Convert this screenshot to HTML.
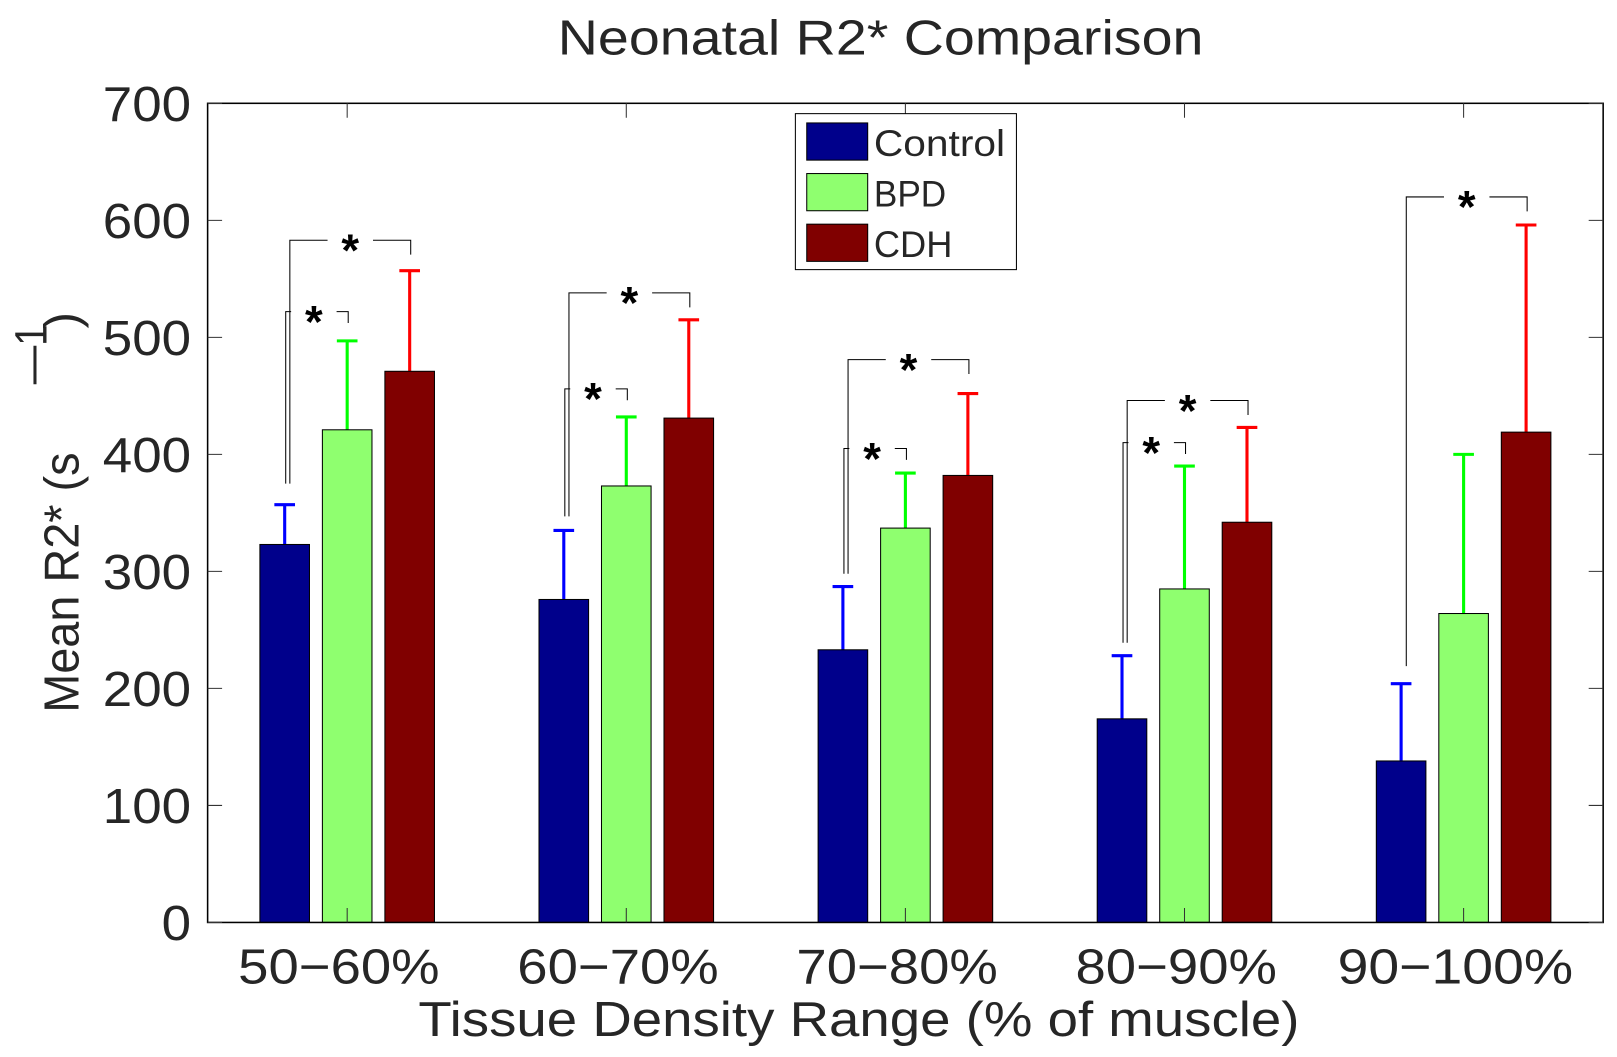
<!DOCTYPE html>
<html><head><meta charset="utf-8"><style>
html,body{margin:0;padding:0;background:#fff;}
svg text{font-family:"Liberation Sans","DejaVu Sans",sans-serif;fill:#262626;}
</style></head><body>
<svg id="chart" width="1617" height="1052" viewBox="0 0 1565.4 1018.4" xmlns="http://www.w3.org/2000/svg">
<text x="540" y="53" font-size="48" textLength="625" lengthAdjust="spacingAndGlyphs">Neonatal R2* Comparison</text>
<g id="plot"></g>
<text x="405" y="1003" font-size="48" textLength="853" lengthAdjust="spacingAndGlyphs">Tissue Density Range (% of muscle)</text>
<g>
<text transform="translate(76,690) rotate(-90)" font-size="48" textLength="252" lengthAdjust="spacingAndGlyphs">Mean R2* (s</text>
<text transform="translate(45,372) rotate(-90)" font-size="44" textLength="58" lengthAdjust="spacingAndGlyphs">—1</text>
<text transform="translate(76,318) rotate(-90)" font-size="48">)</text>
</g>
<g>
<rect x="770" y="110" width="214" height="151" fill="#fff" stroke="#000" stroke-width="1"/>
<rect x="781" y="119" width="59" height="36" fill="#00008b" stroke="#000"/>
<text x="846" y="151" font-size="36" textLength="127" lengthAdjust="spacingAndGlyphs">Control</text>
<rect x="781" y="168" width="59" height="36" fill="#8fff6f" stroke="#000"/>
<text x="846" y="200" font-size="36" textLength="70" lengthAdjust="spacingAndGlyphs">BPD</text>
<rect x="781" y="217" width="59" height="36" fill="#800000" stroke="#000"/>
<text x="846" y="249" font-size="36" textLength="76" lengthAdjust="spacingAndGlyphs">CDH</text>
</g>
</svg>
<script>
const categories = ["50\u221260%","60\u221270%","70\u221280%","80\u221290%","90\u2212100%"];
const controlMean = [323,276,233,174,138];
const controlErr = [34,59,54,54,66];
const bpdMean = [421,373,337,285,264];
const bpdErr = [76,59,47,105,136];
const cdhMean = [471,431,382,342,419];
const cdhErr = [86,84,70,81,177];
const yTicks = [0,100,200,300,400,500,600,700];
// brackets: [group, targetSeries(1=BPD,2=CDH), level, baseLevel]
const brackets = [[0,2,583,375],[0,1,522,375],[1,2,538,347],[1,1,456,347],[2,2,481,298],[2,1,405,298],[3,2,446,239],[3,1,410,239],[4,2,620,219]];

const L=201,R=1552,T=100,B=893;
const NS="http://www.w3.org/2000/svg";
const g=document.getElementById('plot');
function y(v){return B-(v/700)*(B-T);}
function x(i){return L+(i+0.5)*(R-L)/categories.length;}
const off=60.5, bw=48;
function el(tag,attrs,parent){const e=document.createElementNS(NS,tag);for(const k in attrs)e.setAttribute(k,attrs[k]);(parent||g).appendChild(e);return e;}

const series=[[controlMean,controlErr,"#00008b","#0000ff","control"],[bpdMean,bpdErr,"#8fff6f","#00ff00","bpd"],[cdhMean,cdhErr,"#800000","#ff0000","cdh"]];
series.forEach((s,si)=>{
  s[0].forEach((v,i)=>{
    const cx=x(i)+(si-1)*off;
    const eb=el('line',{x1:cx,x2:cx,y1:y(v),y2:y(v+s[1][i]),stroke:s[3],'stroke-width':3});
    
    
    const cap=el('line',{x1:cx-10,x2:cx+10,y1:y(v+s[1][i]),y2:y(v+s[1][i]),stroke:s[3],'stroke-width':3});
    
    
    const r=el('rect',{x:cx-bw/2,y:y(v),width:bw,height:B-y(v),fill:s[2],stroke:'#000','stroke-width':1});
    
    
  });
});
brackets.forEach((b,k)=>{
  const gi=b[0], t=b[1];
  const lx=x(gi)-off+(t===2?5:1), rx=x(gi)+(t-1)*off+1;
  const yy=y(b[2]), drop=t===2?14:11;
  const cx=(lx+rx)/2+(t===2?0:-3);
  const p=el('path',{d:`M${lx},${y(b[3])}V${yy}H${cx-22}M${cx+22},${yy}H${rx}v${drop}`,fill:'none',stroke:'#000','stroke-width':1});
  
  
  const st=el('text',{x:cx,y:yy+25,'font-size':44,'text-anchor':'middle','font-weight':'bold',style:'fill:#000'});
  st.textContent='*';
  
  
});
const ax=el('rect',{x:L,y:T,width:R-L,height:B-T,fill:'none',stroke:'#000','stroke-width':1.5});


yTicks.forEach(v=>{
  const tl=el('path',{d:`M${L},${y(v)}h14M${R},${y(v)}h-14`,stroke:'#333','stroke-width':1});
  
  
  const s=String(v);
  const t=el('text',{x:185,y:y(v)+17,'font-size':48,'text-anchor':'end',textLength:s.length*28.5,lengthAdjust:'spacingAndGlyphs'});
  t.textContent=s;
  
  
});
categories.forEach((c,i)=>{
  const tk=el('path',{d:`M${x(i)},${T}v14M${x(i)},${B}v-14`,stroke:'#333','stroke-width':1});
  
  
  const t=el('text',{x:x(i)-8,y:952,'font-size':48,'text-anchor':'middle',textLength:c.length===6?195:228,lengthAdjust:'spacingAndGlyphs'});
  t.textContent=c;
  
  
});
</script>
</body></html>
